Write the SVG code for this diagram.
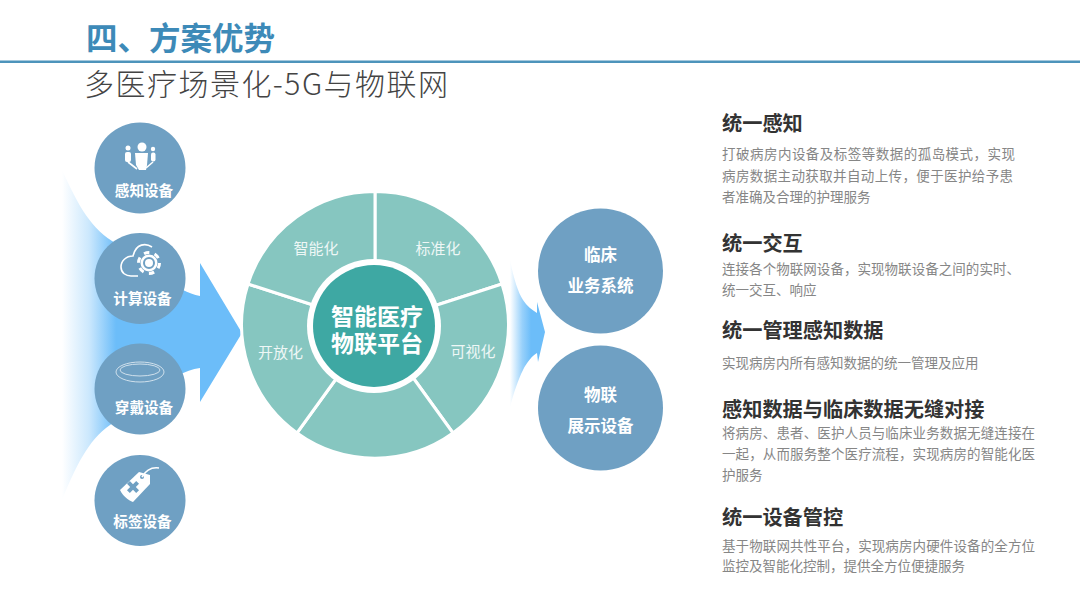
<svg xmlns="http://www.w3.org/2000/svg" width="1080" height="608" viewBox="0 0 1080 608">
<style>
text{font-family:"Noto Sans CJK SC","Liberation Sans",sans-serif}
.dev{fill:#6fa0c3}
.seg{fill:#86c6c0;stroke:#fff;stroke-width:3}
.w{fill:#fff;font-weight:700;text-anchor:middle}
.dl{font-size:14.6px}
.sy{font-size:16.5px}
text.hb{font-size:23px;font-family:"Liberation Sans","Noto Sans CJK SC",sans-serif}
.sl{fill:#eef7f6;font-size:15px;text-anchor:middle}
.h{fill:#333;font-size:20.200px;font-weight:700}
.b{fill:#868686;font-size:13.500px}
.ic{fill:none;stroke:#fff;stroke-width:1.600}
.icf{fill:#fff}
.hole{fill:#6fa0c3}
.rg{fill:none;stroke:#cfe0ec;stroke-width:1}
</style>
<defs>
<linearGradient id="ga" gradientUnits="userSpaceOnUse" x1="62" x2="242" y1="0" y2="0"><stop offset="0" stop-color="#6cbdf9" stop-opacity="0"/><stop offset="0.15" stop-color="#6cbdf9" stop-opacity=".35"/><stop offset="0.3" stop-color="#6cbdf9"/><stop offset="1" stop-color="#6cbdf9"/></linearGradient>
<linearGradient id="gb" gradientUnits="userSpaceOnUse" x1="510" x2="545" y1="0" y2="0"><stop offset="0" stop-color="#6cbdf9" stop-opacity="0"/><stop offset="0.35" stop-color="#6cbdf9" stop-opacity=".7"/><stop offset="0.6" stop-color="#6cbdf9"/><stop offset="1" stop-color="#6cbdf9"/></linearGradient>
</defs>
<rect width="1080" height="608" fill="#fff"/>
<text x="86" y="50" fill="#3d8ab8" style="font-size:31.500px;font-weight:700">四、方案优势</text>
<rect x="0" y="60.500" width="1080" height="2.500" fill="#4d94bb"/>
<text x="84" y="95" fill="#444" textLength="364" style="font-size:30px;font-weight:300">多医疗场景化-5G与物联网</text>
<g id="connectors">
<path d="M62 170C75 198 88 226 112 241C140 258 170 290 200 296V263L242 333L200 402V368C170 372 140 405 110 425C88 440 75 468 62 500Z" fill="url(#ga)"/>
<path d="M510 260C514 280 518 292 523 300C527 306 532 310 537 313V302L545 332L538 362L537 353C532 356 527 362 523 370C518 380 514 392 510 407Z" fill="url(#gb)"/>
</g>
<g id="dev1"><circle class="dev" cx="140" cy="168" r="45.500"/>
<circle class="icf" cx="142" cy="147" r="4.500"/><path class="icf" d="M135 153h13l-1 12l-1 5h-7l-3-5z"/><circle class="icf" cx="128" cy="148" r="2.500"/><rect class="icf" x="125" y="152" width="6" height="10" rx="2"/><circle class="icf" cx="153" cy="149" r="2.200"/><rect class="icf" x="151" y="152.500" width="4.500" height="9" rx="2"/><path class="ic" d="M128 162l9 7M146 168l7-6" stroke-width="1"/>
<text class="w dl" x="144" y="196">感知设备</text></g>
<g id="dev2"><circle class="dev" cx="140" cy="278.500" r="45.500"/>
<path class="ic" d="M152 247C146 243 136 243 133 256C126 256 121 261 121 267C121 273 126 276 131 276H138"/>
<circle cx="149" cy="263" r="8.500" fill="#fff"/><circle cx="149" cy="263" r="10.500" fill="none" stroke="#fff" stroke-width="3" stroke-dasharray="5.500 5.500"/>
<circle cx="149" cy="263" r="5" fill="none" stroke="#6fa0c3" stroke-width="2"/>
<text class="w dl" x="142.500" y="304">计算设备</text></g>
<g id="dev3"><circle class="dev" cx="140" cy="389" r="45.500"/>
<ellipse class="rg" cx="140" cy="372" rx="24" ry="10"/><ellipse class="rg" cx="140" cy="370" rx="20" ry="6"/>
<text class="w dl" x="144" y="412.500">穿戴设备</text></g>
<g id="dev4"><circle class="dev" cx="140" cy="500.500" r="45.500"/>
<path class="icf" d="M120 490L139 472L150 475L150 484L133 502C128 500 123 496 120 490Z"/><circle class="hole" cx="142" cy="477" r="2"/><path class="ic" d="M142 477C146 470 152 467 159 468" stroke-width="1.200"/>
<path class="hole" transform="rotate(45 133 487)" d="M131 480.500h4v4.500h4.500v4h-4.500v4.500h-4v-4.500h-4.500v-4h4.500z"/>
<text class="w dl" x="142.500" y="527">标签设备</text></g>
<g id="wheel">
<path class="seg" d="M375 325L375 191.500A133.500 133.500 0 0 1 502 284Z"/>
<path class="seg" d="M375 325L502 284A133.500 133.500 0 0 1 453 433Z"/>
<path class="seg" d="M375 325L453 433A133.500 133.500 0 0 1 297 433Z"/>
<path class="seg" d="M375 325L297 433A133.500 133.500 0 0 1 248 284Z"/>
<path class="seg" d="M375 325L248 284A133.500 133.500 0 0 1 375 191.500Z"/>
<text class="sl" x="316" y="254">智能化</text><text class="sl" x="438" y="254">标准化</text><text class="sl" x="473" y="357">可视化</text><text class="sl" x="280.500" y="358">开放化</text>
</g>
<g id="hub"><circle cx="374" cy="326" r="67" fill="#fff"/><circle cx="374" cy="326" r="61" fill="#3ea8a3"/>
<text class="w hb" x="377" y="324.500">智能医疗</text><text class="w hb" x="377" y="351.500">物联平台</text></g>
<g id="sys1"><circle class="dev" cx="600.500" cy="271" r="62.500"/><text class="w sy" x="600.500" y="261">临床</text><text class="w sy" x="600.500" y="291.500">业务系统</text></g>
<g id="sys2"><circle class="dev" cx="600.500" cy="408" r="62.500"/><text class="w sy" x="600.500" y="401">物联</text><text class="w sy" x="600.500" y="431.500">展示设备</text></g>
<g id="notes">
<text class="h" x="722" y="131">统一感知</text>
<text class="b" x="722" y="159" textLength="293">打破病房内设备及标签等数据的孤岛模式，实现</text>
<text class="b" x="722" y="181" textLength="291">病房数据主动获取并自动上传，便于医护给予患</text>
<text class="b" x="722" y="202">者准确及合理的护理服务</text>
<text class="h" x="722" y="251">统一交互</text>
<text class="b" x="722" y="274" textLength="298">连接各个物联网设备，实现物联设备之间的实时、</text>
<text class="b" x="722" y="295">统一交互、响应</text>
<text class="h" x="722" y="338">统一管理感知数据</text>
<text class="b" x="722" y="368">实现病房内所有感知数据的统一管理及应用</text>
<text class="h" x="722" y="417">感知数据与临床数据无缝对接</text>
<text class="b" x="722" y="438" textLength="313">将病房、患者、医护人员与临床业务数据无缝连接在</text>
<text class="b" x="722" y="459" textLength="313">一起，从而服务整个医疗流程，实现病房的智能化医</text>
<text class="b" x="722" y="480">护服务</text>
<text class="h" x="722" y="525">统一设备管控</text>
<text class="b" x="722" y="551" textLength="313">基于物联网共性平台，实现病房内硬件设备的全方位</text>
<text class="b" x="722" y="571" textLength="243">监控及智能化控制，提供全方位便捷服务</text>
</g>
</svg>
